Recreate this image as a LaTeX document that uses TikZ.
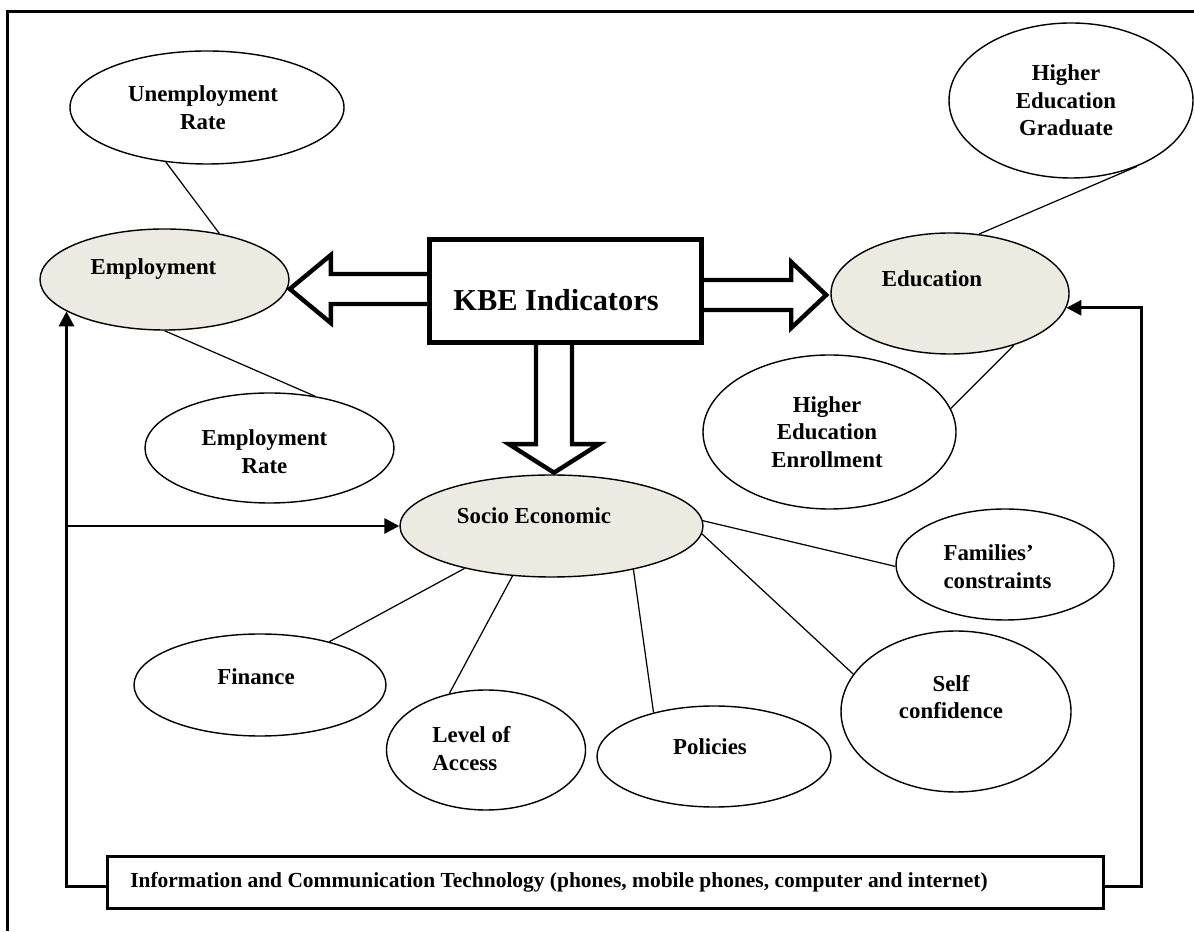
\documentclass[tikz,border=0pt]{standalone}
\usepackage{fontspec}
\setmainfont{Liberation Serif}
\usetikzlibrary{shapes.geometric, arrows.meta}
\definecolor{hubfill}{RGB}{236,234,225}
\begin{document}
\begin{tikzpicture}[>={Triangle[length=0.3cm, width=0.3cm]}]
	\tikzset{
		ell/.style={ellipse, draw, line width=0.8pt, inner sep=0pt},
		hub/.style={ell, fill=hubfill},
		txt/.style={font=\bfseries\fontsize{13}{15.6}\selectfont, align=center, inner sep=0pt},
		link/.style={line width=0.7pt},
		elbow/.style={->, line width=1.7pt},
		fat/.style={line width=2.5pt, line join=miter},
		frame/.style={line width=1.7pt}
	}
	\useasboundingbox (0,0) rectangle (23.88,18.62);
	\draw[frame] (0.154,0) -- (0.154,18.386) -- (23.88,18.386);

	\node[draw, line width=2.5pt, minimum width=5.44cm, minimum height=2.06cm] (kbe) at (11.31,12.8) {};
	\node[txt, font=\bfseries\fontsize{17.3}{20}\selectfont] (kbeT) at ([shift={(-0.19,-0.18)}]kbe.center) {KBE Indicators};

	\node[hub, minimum width=4.98cm, minimum height=2.02cm] (emp) at (3.29,13.03) {};
	\node[txt] (empT) at ([shift={(-0.22,0.2)}]emp.center) {Employment};
	\node[ell, minimum width=5.48cm, minimum height=2.26cm] (unemp) at (4.14,16.47) {};
	\node[txt] (unempT) at ([shift={(-0.08,0)}]unemp.center) {Unemployment\\Rate};
	\node[ell, minimum width=4.98cm, minimum height=2.2cm] (emprate) at (5.39,9.66) {};
	\node[txt] (emprateT) at ([shift={(-0.1,-0.07)}]emprate.center) {Employment\\Rate};

	\node[hub, minimum width=4.76cm, minimum height=2.42cm] (edu) at (19.0,12.75) {};
	\node[txt] (eduT) at ([shift={(-0.36,0.29)}]edu.center) {Education};
	\node[ell, minimum width=4.88cm, minimum height=3.1cm] (heg) at (21.42,16.61) {};
	\node[txt] (hegT) at ([shift={(-0.1,0)}]heg.center) {Higher\\Education\\Graduate};
	\node[ell, minimum width=5.06cm, minimum height=3.08cm] (hee) at (16.59,9.98) {};
	\node[txt] (heeT) at ([shift={(-0.05,0)}]hee.center) {Higher\\Education\\Enrollment};

	\node[hub, minimum width=6.06cm, minimum height=2.04cm] (se) at (11.03,8.10) {};
	\node[txt] (seT) at ([shift={(-0.35,0.2)}]se.center) {Socio Economic};
	\node[ell, minimum width=5.04cm, minimum height=2.04cm] (fin) at (5.2,4.92) {};
	\node[txt] (finT) at ([shift={(-0.08,0.16)}]fin.center) {Finance};
	\node[ell, minimum width=3.98cm, minimum height=2.4cm] (loa) at (9.72,3.62) {};
	\node[txt, align=left] (loaT) at ([shift={(-0.29,0.03)}]loa.center) {Level of\\Access};
	\node[ell, minimum width=4.68cm, minimum height=2.02cm] (pol) at (14.28,3.49) {};
	\node[txt] (polT) at ([shift={(-0.08,0.19)}]pol.center) {Policies};
	\node[ell, minimum width=4.36cm, minimum height=2.22cm] (fam) at (20.1,7.33) {};
	\node[txt, align=left] (famT) at ([shift={(-0.15,-0.04)}]fam.center) {Families’\\constraints};
	\node[ell, minimum width=4.6cm, minimum height=3.22cm] (self) at (19.12,4.39) {};
	\node[txt] (selfT) at ([shift={(-0.1,0.29)}]self.center) {Self\\confidence};

	\node[draw, line width=1.7pt, minimum width=19.92cm, minimum height=1.04cm] (ict) at (12.11,0.97) {};
	\node[txt, font=\bfseries\fontsize{12.2}{15}\selectfont] (ictT) at ([shift={(-0.93,0)}]ict.center) {Information and Communication Technology (phones, mobile phones, computer and internet)};
	\coordinate (ictL) at ([yshift=-0.08cm]ict.west);
	\coordinate (ictR) at ([yshift=-0.08cm]ict.east);

	\draw[fat] (kbe.west) ++(0,0.34) -- ++(-1.93,0) -- ++(0,0.38) -- ++(-0.82,-0.68) -- ++(0.82,-0.68) -- ++(0,0.38) -- ++(1.93,0);
	\draw[fat] (kbe.east) ++(0,0.22) -- ++(1.75,0) -- ++(0,0.36) -- ++(0.7,-0.66) -- ++(-0.7,-0.66) -- ++(0,0.36) -- ++(-1.75,0);
	\draw[fat] (kbe.south) ++(-0.59,0) -- ++(0,-1.99) -- ++(-0.54,0) -- ++(0.9,-0.57) -- ++(0.9,0.57) -- ++(-0.54,0) -- ++(0,1.99);

	\foreach \a/\b in {unemp.233/emp.40, emp.270/emprate.49, heg.-45/edu.64, edu.-39/hee.11,
			se.206/fin.32, se.232/loa.123, se.-28/pol.144, se.2/fam.181, se.-3/self.160}
		\draw[link] (\a) -- (\b);

	\draw[elbow] (ictL) -- (emp.198 |- ictL) -- (emp.198);
	\draw[elbow] (ictR) -- ++(0.73,0) |- (edu.-7);
	\draw[elbow] (emp.198 |- se.west) -- (se.west);
\end{tikzpicture}
\end{document}
